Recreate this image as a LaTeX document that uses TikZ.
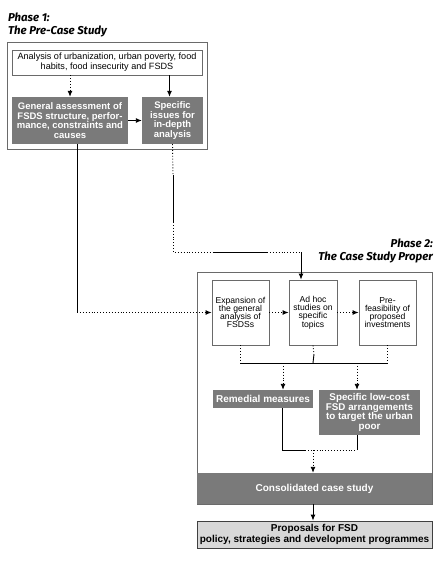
\documentclass[tikz,border=0pt]{standalone}
\usepackage{fontspec}
\setmainfont{Liberation Sans}
\newfontfamily\titlefont{Fira Sans}
\usetikzlibrary{arrows.meta}
\definecolor{boxgray}{HTML}{7A7A7A}
\definecolor{framegray}{HTML}{6A6A6A}
\definecolor{lightbox}{HTML}{D8D8D8}
\begin{document}
\begin{tikzpicture}[x=1pt,y=-1pt,
  darkbox/.style={rectangle, fill=boxgray, draw=none, text=white, font=\bfseries\fontsize{9.5}{9.5}\selectfont, align=center, inner sep=0pt},
  whitebox/.style={rectangle, draw=framegray, fill=white, font=\fontsize{8.6}{8.2}\selectfont, align=center, inner sep=0pt, line width=0.8pt},
  frame/.style={draw=framegray, line width=1pt},
  phasetitle/.style={font=\titlefont\bfseries\itshape\fontsize{11.4}{12}\selectfont, inner sep=0pt},
  link/.style={line width=0.9pt, black},
  dotlink/.style={line width=0.9pt, black, dotted},
  arr/.style={-{Latex[length=6pt,width=5pt]}}
]
\useasboundingbox (0,0) rectangle (437,561);
\fill[white] (0,0) rectangle (437,561);

% Phase 1
\node[phasetitle, anchor=base west] (p1a) at (8,22) {Phase 1:};
\node[phasetitle, anchor=base west] (p1b) at (8,35) {The Pre-Case Study};
\node[frame, rectangle, minimum width=200pt, minimum height=107pt, inner sep=0pt] (box1) at (107,96.5) {};
\node[whitebox, font=\fontsize{9.1}{10}\selectfont, minimum width=190pt, minimum height=25pt] (analysis) at (107,62.5)
  {Analysis of urbanization, urban poverty, food\\habits, food insecurity and FSDS};
\node[darkbox, minimum width=116pt, minimum height=47pt] (gen) at (70,120.5)
  {General assessment of\\FSDS structure, perfor-\\mance, constraints and\\causes};
\node[darkbox, minimum width=61pt, minimum height=47pt] (spec) at (172.5,120.5)
  {Specific\\issues for\\in-depth\\analysis};

% Phase 2
\node[phasetitle, anchor=base east] (p2a) at (433,247) {Phase 2:};
\node[phasetitle, anchor=base east] (p2b) at (433,260) {The Case Study Proper};
\node[frame, rectangle, minimum width=235pt, minimum height=232pt, inner sep=0pt] (box2) at (314.5,388) {};
\node[whitebox, minimum width=57pt, minimum height=65pt] (exp) at (240.5,312.5)
  {Expansion of\\the general\\analysis of\\FSDSs};
\node[whitebox, minimum width=48pt, minimum height=65pt] (adhoc) at (313,312.5)
  {Ad hoc\\studies on\\specific\\topics};
\node[whitebox, minimum width=57pt, minimum height=65pt] (pre) at (387.5,312.5)
  {Pre-\\feasibility of\\proposed\\investments};
\node[darkbox, minimum width=100pt, minimum height=18pt, font=\bfseries\fontsize{10}{10}\selectfont] (rem) at (263,399) {Remedial measures};
\node[darkbox, minimum width=101pt, minimum height=45pt, font=\bfseries\fontsize{9.8}{9.8}\selectfont] (low) at (369.5,412.5)
  {Specific low-cost\\FSD arrangements\\to target the urban\\poor};
\node[darkbox, minimum width=235pt, minimum height=31pt, font=\bfseries\fontsize{10}{10}\selectfont] (consol) at (314.5,488.5) {Consolidated case study};
\node[rectangle, draw=black!75, fill=lightbox, line width=0.8pt, font=\bfseries\fontsize{10}{10.2}\selectfont, align=center, inner sep=0pt, minimum width=235pt, minimum height=27pt] (prop) at (314.5,534.5)
  {Proposals for FSD\\policy, strategies and development programmes};

% helper coordinates
\coordinate (gs) at (77,144);
\coordinate (gbend) at (77,312.5);
\coordinate (s1) at (173,175);
\coordinate (s2) at (173,222);
\coordinate (s3) at (173,252);
\coordinate (h1) at (213,252);
\coordinate (h2) at (267,252);
\coordinate (h3) at (301,252);
\coordinate (busy) at (0,363);
\coordinate (amid) at (314,354);
\coordinate (b1) at (283,363);
\coordinate (b2) at (357,363);
\coordinate (rs) at (282,408);
\coordinate (r1) at (282,450);
\coordinate (l1) at (357,450);
\coordinate (m1) at (305,450);
\coordinate (j1) at (313,450);

% Phase 1 connectors
\draw[dotlink,arr] (gen.north |- analysis.south) -- (gen.north);
\draw[link,arr] ([xshift=-3pt]spec.north |- analysis.south) -- ([xshift=-3pt]spec.north);
\draw[link,arr] (gen.east) -- (spec.west);

% to Phase 2
\draw[link] (gs) -- (gbend);
\draw[dotlink,arr] (gbend) -- (exp.west);
\draw[dotlink] (spec.south) -- (s1);
\draw[link] (s1) -- (s2);
\draw[dotlink] (s2) -- (s3) -- (h1);
\draw[link] (h1) -- (h2);
\draw[dotlink] (h2) -- (h3);
\draw[link,arr] (h3) -- (h3 |- adhoc.north);

% Phase 2 connectors
\draw[dotlink,arr] (exp.east) -- (adhoc.west);
\draw[dotlink,arr] (adhoc.east) -- (pre.west);
\draw[dotlink] (exp.south) -- (exp.south |- busy);
\draw[dotlink] (adhoc.south) -- (amid);
\draw[link] (amid) -- (adhoc.south |- busy);
\draw[dotlink] (pre.south) -- (pre.south |- busy);
\draw[link] (exp.south |- busy) -- (pre.south |- busy);
\draw[dotlink,arr] (b1) -- (b1 |- rem.north);
\draw[dotlink,arr] (b2) -- (b2 |- low.north);
\draw[link] (rs) -- (r1) -- (m1);
\draw[dotlink] (m1) -- (l1);
\draw[link] (l1) -- (l1 |- low.south);
\draw[dotlink,arr] (j1) -- (j1 |- consol.north);
\draw[link,arr] (j1 |- consol.south) -- (j1 |- prop.north);
\end{tikzpicture}
\end{document}
